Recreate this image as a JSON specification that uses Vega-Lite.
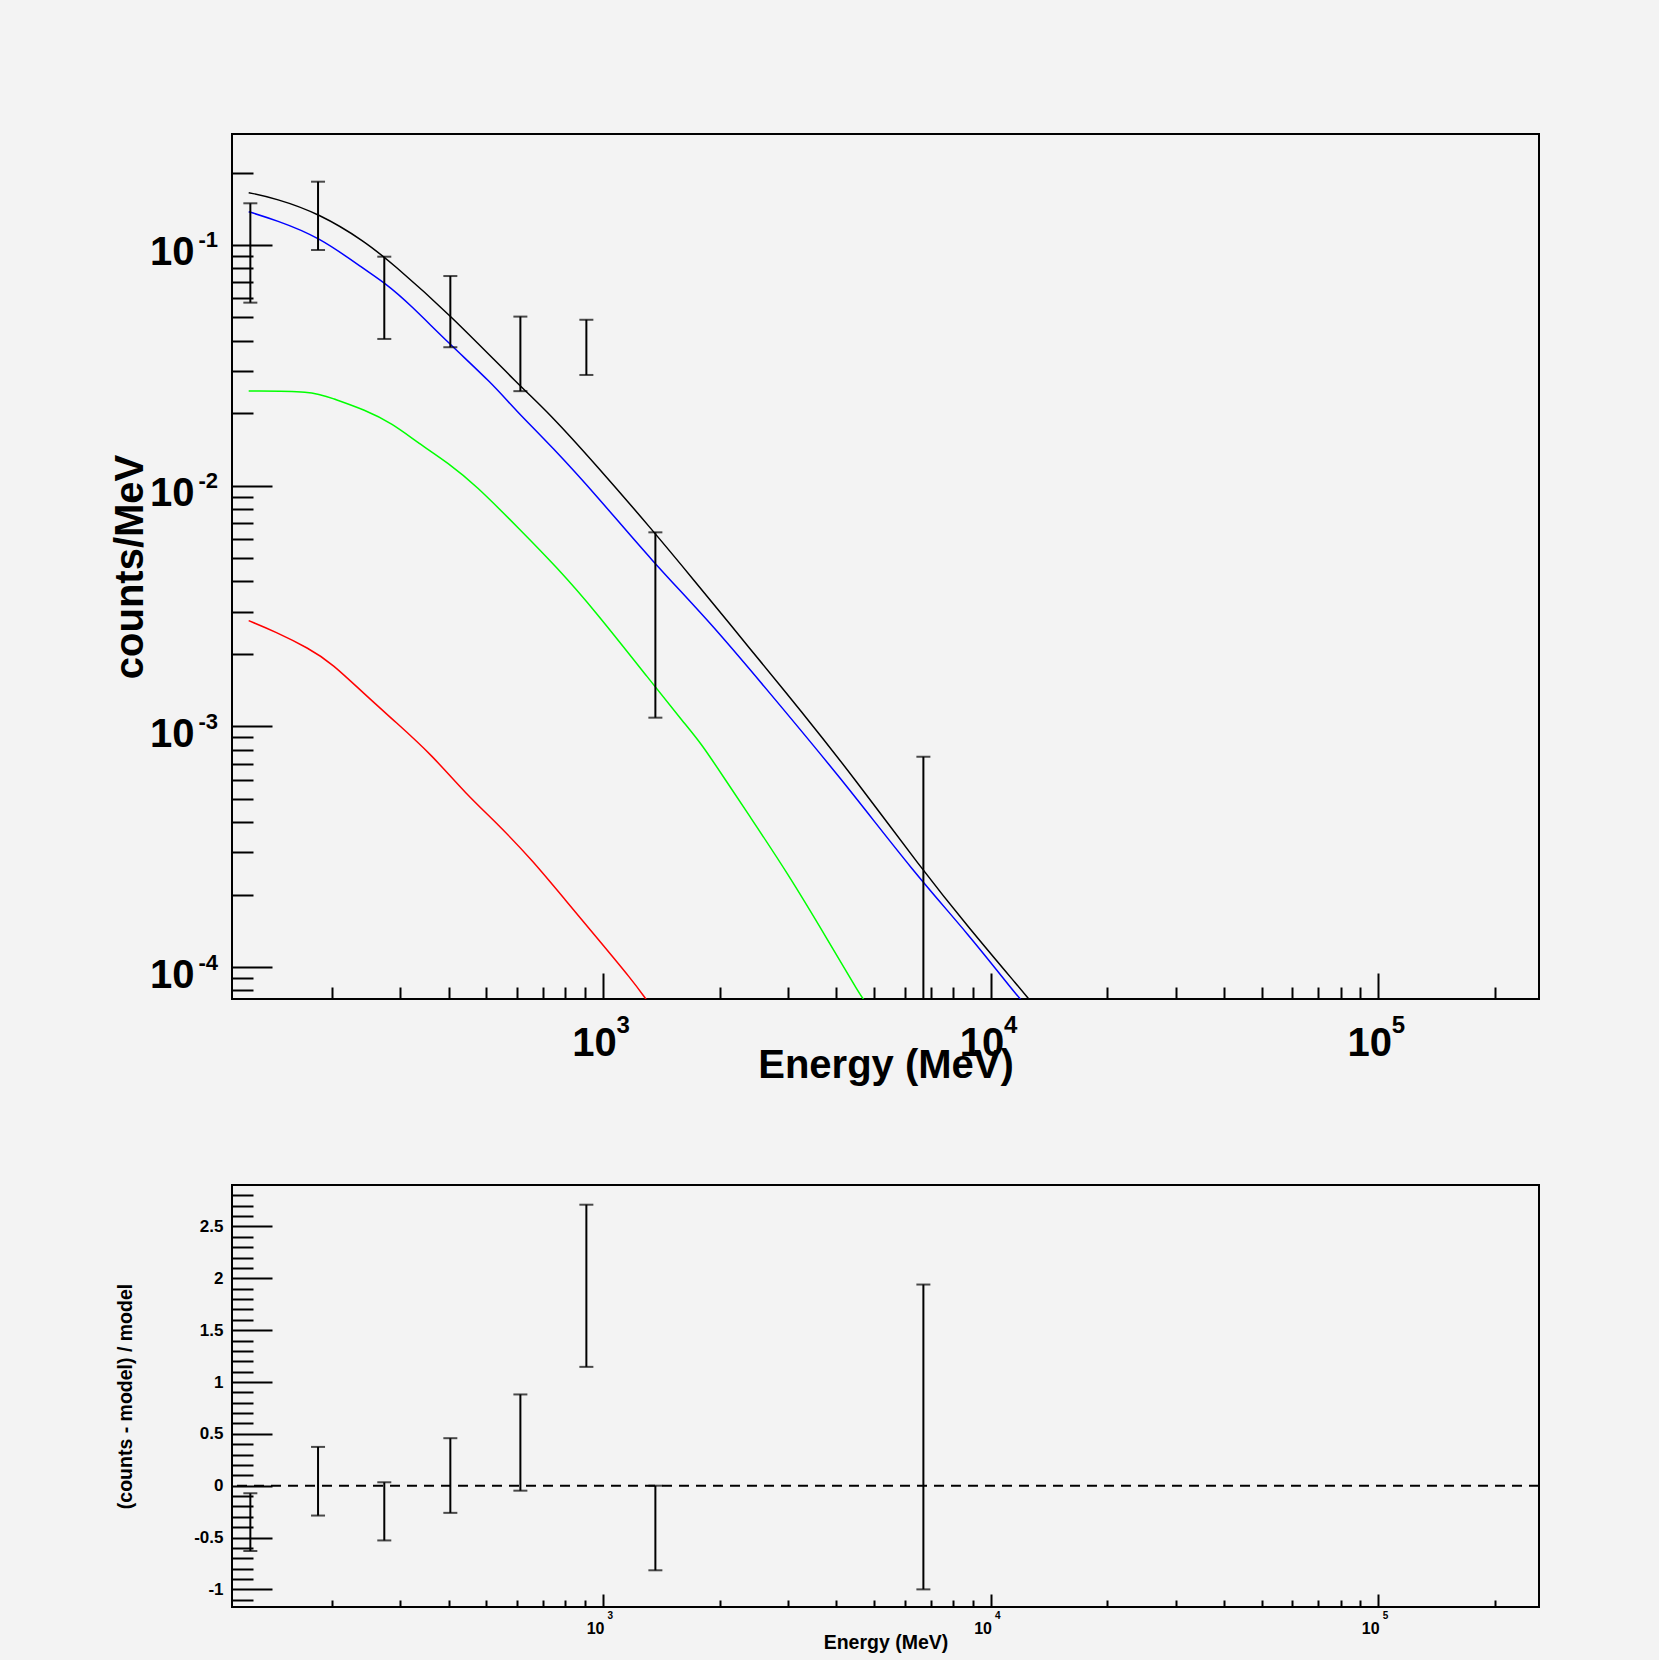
{
  "$schema": "https://vega.github.io/schema/vega-lite/v6.json",
  "background": "#f3f3f3",
  "autosize": {"type": "pad"},
  "padding": {"left": 109, "top": 133, "right": 120, "bottom": 8},
  "bounds": "flush",
  "spacing": 186,
  "datasets": {
    "curves": [
      {"comp": "total", "E": 121.8, "flux": 0.1649},
      {"comp": "total", "E": 142.7, "flux": 0.1563},
      {"comp": "total", "E": 184.7, "flux": 0.1354},
      {"comp": "total", "E": 243.6, "flux": 0.1032},
      {"comp": "total", "E": 285.4, "flux": 0.0839},
      {"comp": "total", "E": 399.8, "flux": 0.052},
      {"comp": "total", "E": 618, "flux": 0.02539},
      {"comp": "total", "E": 720, "flux": 0.0203},
      {"comp": "total", "E": 969, "flux": 0.01199},
      {"comp": "total", "E": 1334, "flux": 0.0066},
      {"comp": "total", "E": 1687, "flux": 0.00419},
      {"comp": "total", "E": 2409, "flux": 0.002077},
      {"comp": "total", "E": 3243, "flux": 0.00116},
      {"comp": "total", "E": 4451, "flux": 0.000609},
      {"comp": "total", "E": 6616, "flux": 0.000258},
      {"comp": "total", "E": 8734, "flux": 0.0001472},
      {"comp": "total", "E": 12110, "flux": 0.000079},
      {"comp": "total", "E": 12700, "flux": 0.000072},
      {"comp": "comp1", "E": 121.8, "flux": 0.1375},
      {"comp": "comp1", "E": 142.7, "flux": 0.127},
      {"comp": "comp1", "E": 184.7, "flux": 0.1083},
      {"comp": "comp1", "E": 243.6, "flux": 0.0787},
      {"comp": "comp1", "E": 274.3, "flux": 0.0693},
      {"comp": "comp1", "E": 315.2, "flux": 0.0573},
      {"comp": "comp1", "E": 399.8, "flux": 0.03905},
      {"comp": "comp1", "E": 517, "flux": 0.02663},
      {"comp": "comp1", "E": 593.8, "flux": 0.02063},
      {"comp": "comp1", "E": 738.6, "flux": 0.01452},
      {"comp": "comp1", "E": 972, "flux": 0.00893},
      {"comp": "comp1", "E": 1330, "flux": 0.00491},
      {"comp": "comp1", "E": 1900, "flux": 0.002681},
      {"comp": "comp1", "E": 2608, "flux": 0.001462},
      {"comp": "comp1", "E": 4114, "flux": 0.000609},
      {"comp": "comp1", "E": 6360, "flux": 0.0002453},
      {"comp": "comp1", "E": 8734, "flux": 0.0001381},
      {"comp": "comp1", "E": 11755, "flux": 0.0000753},
      {"comp": "comp1", "E": 12100, "flux": 0.000072},
      {"comp": "comp2", "E": 121.8, "flux": 0.02473},
      {"comp": "comp2", "E": 177.4, "flux": 0.02473},
      {"comp": "comp2", "E": 199.8, "flux": 0.02307},
      {"comp": "comp2", "E": 243.6, "flux": 0.02063},
      {"comp": "comp2", "E": 285.4, "flux": 0.01816},
      {"comp": "comp2", "E": 334.5, "flux": 0.015},
      {"comp": "comp2", "E": 399.8, "flux": 0.01239},
      {"comp": "comp2", "E": 468.3, "flux": 0.01007},
      {"comp": "comp2", "E": 606, "flux": 0.006653},
      {"comp": "comp2", "E": 764, "flux": 0.004538},
      {"comp": "comp2", "E": 949.5, "flux": 0.003046},
      {"comp": "comp2", "E": 1330, "flux": 0.001534},
      {"comp": "comp2", "E": 1621, "flux": 0.00103},
      {"comp": "comp2", "E": 1790, "flux": 0.000851},
      {"comp": "comp2", "E": 2056, "flux": 0.000609},
      {"comp": "comp2", "E": 2362, "flux": 0.0004355},
      {"comp": "comp2", "E": 2996, "flux": 0.0002453},
      {"comp": "comp2", "E": 3801, "flux": 0.0001296},
      {"comp": "comp2", "E": 4633, "flux": 0.0000753},
      {"comp": "comp2", "E": 4750, "flux": 0.000072},
      {"comp": "comp3", "E": 121.8, "flux": 0.002749},
      {"comp": "comp3", "E": 142.7, "flux": 0.002474},
      {"comp": "comp3", "E": 174, "flux": 0.002111},
      {"comp": "comp3", "E": 199.8, "flux": 0.001829},
      {"comp": "comp3", "E": 243.6, "flux": 0.00135},
      {"comp": "comp3", "E": 291, "flux": 0.001046},
      {"comp": "comp3", "E": 362, "flux": 0.00076},
      {"comp": "comp3", "E": 441, "flux": 0.000527},
      {"comp": "comp3", "E": 538, "flux": 0.0003895},
      {"comp": "comp3", "E": 655.8, "flux": 0.0002786},
      {"comp": "comp3", "E": 799, "flux": 0.00019},
      {"comp": "comp3", "E": 974.8, "flux": 0.0001296},
      {"comp": "comp3", "E": 1188, "flux": 0.0000884},
      {"comp": "comp3", "E": 1286, "flux": 0.0000742},
      {"comp": "comp3", "E": 1310, "flux": 0.000071}
    ],
    "bins": [
      {"E": 123, "lo": 0.0576, "hi": 0.149, "rlo": -0.63, "rhi": -0.073},
      {"E": 183.9, "lo": 0.0953, "hi": 0.1832, "rlo": -0.288, "rhi": 0.374},
      {"E": 272.6, "lo": 0.0407, "hi": 0.0894, "rlo": -0.528, "rhi": 0.033},
      {"E": 403.6, "lo": 0.0376, "hi": 0.0743, "rlo": -0.262, "rhi": 0.458},
      {"E": 611.9, "lo": 0.0247, "hi": 0.0504, "rlo": -0.048, "rhi": 0.88},
      {"E": 905.6, "lo": 0.02884, "hi": 0.0489, "rlo": 1.146, "rhi": 2.71},
      {"E": 1364.6, "lo": 0.001087, "hi": 0.0064, "rlo": -0.816, "rhi": 0.0},
      {"E": 6707, "lo": 0.000001, "hi": 0.000748, "rlo": -1.0, "rhi": 1.94}
    ]
  },
  "config": {
    "view": {"stroke": "black", "strokeWidth": 2},
    "font": "Liberation Sans",
    "axis": {
      "grid": false, "domain": false,
      "labelColor": "black", "titleColor": "black", "tickColor": "black",
      "labelFont": "Liberation Sans", "titleFont": "Liberation Sans",
      "labelFontWeight": "bold", "titleFontWeight": "bold",
      "labelFlush": false, "labelOverlap": false
    }
  },
  "vconcat": [
    {
      "width": 1307,
      "height": 865,
      "resolve": {"axis": {"x": "independent", "y": "independent"}},
      "layer": [
        {
          "data": {"name": "curves"},
          "mark": {"type": "line", "strokeWidth": 1.5, "clip": true, "interpolate": "basis"},
          "encoding": {
            "x": {"field": "E", "type": "quantitative",
              "scale": {"type": "log", "domain": [110.3, 260000], "nice": false},
              "axis": {"orient": "bottom", "values": [1000, 10000, 100000], "ticks": false,
                "labelExpr": "'10'", "labelFontSize": 40, "labelBaseline": "alphabetic", "labelAlign": "center",
                "labelPadding": 56, "labelOffset": -9,
                "title": "Energy (MeV)", "titleFontSize": 40, "titleBaseline": "alphabetic", "titleY": 78}},
            "y": {"field": "flux", "type": "quantitative",
              "scale": {"type": "log", "domain": [0.0000737, 0.2891], "nice": false},
              "axis": {"orient": "left", "values": [0.1, 0.01, 0.001, 0.0001], "ticks": false,
                "labelExpr": "'10'", "labelFontSize": 40, "labelBaseline": "alphabetic", "labelAlign": "right",
                "labelPadding": 38, "labelOffset": 20,
                "title": "counts/MeV", "titleFontSize": 40, "titleBaseline": "alphabetic", "titleX": -90}},
            "color": {"field": "comp", "type": "nominal",
              "scale": {"domain": ["total", "comp1", "comp2", "comp3"], "range": ["#000000", "#0000ff", "#00ff00", "#ff0000"]},
              "legend": null}
          }
        },
        {
          "data": {"name": "bins"},
          "mark": {"type": "rule", "strokeWidth": 2, "color": "black", "clip": true},
          "encoding": {
            "x": {"field": "E", "type": "quantitative",
              "scale": {"type": "log", "domain": [110.3, 260000], "nice": false},
              "axis": {"orient": "bottom", "values": [1000, 10000, 100000], "ticks": false,
                "labelExpr": "'' + round(log(datum.value)/LN10)", "labelFontSize": 24, "labelBaseline": "alphabetic",
                "labelAlign": "left", "labelPadding": 33, "labelOffset": 13, "title": null}},
            "y": {"field": "lo", "type": "quantitative",
              "scale": {"type": "log", "domain": [0.0000737, 0.2891], "nice": false},
              "axis": {"orient": "left", "values": [0.1, 0.01, 0.001, 0.0001], "ticks": false,
                "labelExpr": "'-' + round(-log(datum.value)/LN10)", "labelFontSize": 22, "labelBaseline": "alphabetic",
                "labelAlign": "left", "labelPadding": 34, "labelOffset": 2, "title": null}},
            "y2": {"field": "hi"}
          }
        },
        {
          "data": {"name": "bins"},
          "mark": {"type": "tick", "orient": "horizontal", "size": 14, "thickness": 2, "color": "black", "clip": true},
          "encoding": {
            "x": {"field": "E", "type": "quantitative",
              "scale": {"type": "log", "domain": [110.3, 260000], "nice": false},
              "axis": {"orient": "bottom", "labels": false, "tickWidth": 2, "title": null,
                "values": [200, 300, 400, 500, 600, 700, 800, 900, 1000, 2000, 3000, 4000, 5000, 6000, 7000, 8000, 9000, 10000, 20000, 30000, 40000, 50000, 60000, 70000, 80000, 90000, 100000, 200000],
                "tickSize": {"condition": {"test": "abs(log(datum.value)/LN10 - round(log(datum.value)/LN10)) < 0.001", "value": -26}, "value": -12}}},
            "y": {"field": "hi", "type": "quantitative",
              "scale": {"type": "log", "domain": [0.0000737, 0.2891], "nice": false},
              "axis": {"orient": "left", "labels": false, "tickWidth": 2, "title": null,
                "values": [0.2, 0.1, 0.09, 0.08, 0.07, 0.06, 0.05, 0.04, 0.03, 0.02, 0.01, 0.009, 0.008, 0.007, 0.006, 0.005, 0.004, 0.003, 0.002, 0.001, 0.0009, 0.0008, 0.0007, 0.0006, 0.0005, 0.0004, 0.0003, 0.0002, 0.0001, 0.00009, 0.00008],
                "tickSize": {"condition": {"test": "abs(log(datum.value)/LN10 - round(log(datum.value)/LN10)) < 0.001", "value": -40}, "value": -21}}}
          }
        },
        {
          "data": {"name": "bins"},
          "mark": {"type": "tick", "orient": "horizontal", "size": 14, "thickness": 2, "color": "black", "clip": true},
          "encoding": {
            "x": {"field": "E", "type": "quantitative", "scale": {"type": "log", "domain": [110.3, 260000], "nice": false}, "axis": null},
            "y": {"field": "lo", "type": "quantitative", "scale": {"type": "log", "domain": [0.0000737, 0.2891], "nice": false}, "axis": null}
          }
        }
      ]
    },
    {
      "width": 1307,
      "height": 422,
      "resolve": {"axis": {"x": "independent", "y": "independent"}},
      "layer": [
        {
          "data": {"values": [{}]},
          "mark": {"type": "rule", "strokeWidth": 2, "color": "black", "strokeDash": [10, 7]},
          "encoding": {
            "y": {"datum": 0, "type": "quantitative", "scale": {"type": "linear", "domain": [-1.17, 2.9], "nice": false, "zero": false}, "axis": null}
          }
        },
        {
          "data": {"name": "bins"},
          "mark": {"type": "rule", "strokeWidth": 2, "color": "black", "clip": true},
          "encoding": {
            "x": {"field": "E", "type": "quantitative",
              "scale": {"type": "log", "domain": [110.3, 260000], "nice": false},
              "axis": {"orient": "bottom", "values": [1000, 10000, 100000], "ticks": false,
                "labelExpr": "'10'", "labelFontSize": 16, "labelBaseline": "alphabetic", "labelAlign": "center",
                "labelPadding": 26, "labelOffset": -8,
                "title": "Energy (MeV)", "titleFontSize": 19.5, "titleBaseline": "alphabetic", "titleY": 41}},
            "y": {"field": "rlo", "type": "quantitative",
              "scale": {"type": "linear", "domain": [-1.17, 2.9], "nice": false, "zero": false},
              "axis": {"orient": "left", "values": [-1, -0.5, 0, 0.5, 1, 1.5, 2, 2.5], "ticks": false,
                "labelExpr": "'' + datum.value", "labelFontSize": 17, "labelBaseline": "middle", "labelAlign": "right",
                "labelPadding": 9,
                "title": "(counts - model) / model", "titleFontSize": 19.5, "titleBaseline": "alphabetic", "titleX": -101}},
            "y2": {"field": "rhi"}
          }
        },
        {
          "data": {"name": "bins"},
          "mark": {"type": "tick", "orient": "horizontal", "size": 14, "thickness": 2, "color": "black", "clip": true},
          "encoding": {
            "x": {"field": "E", "type": "quantitative",
              "scale": {"type": "log", "domain": [110.3, 260000], "nice": false},
              "axis": {"orient": "bottom", "values": [1000, 10000, 100000], "ticks": false,
                "labelExpr": "'' + round(log(datum.value)/LN10)", "labelFontSize": 10, "labelBaseline": "alphabetic",
                "labelAlign": "left", "labelPadding": 11, "labelOffset": 4, "title": null}},
            "y": {"field": "rhi", "type": "quantitative",
              "scale": {"type": "linear", "domain": [-1.17, 2.9], "nice": false, "zero": false},
              "axis": {"orient": "left", "labels": false, "tickWidth": 2, "title": null,
                "values": [-1.1, -1.0, -0.9, -0.8, -0.7, -0.6, -0.5, -0.4, -0.3, -0.2, -0.1, 0, 0.1, 0.2, 0.3, 0.4, 0.5, 0.6, 0.7, 0.8, 0.9, 1.0, 1.1, 1.2, 1.3, 1.4, 1.5, 1.6, 1.7, 1.8, 1.9, 2.0, 2.1, 2.2, 2.3, 2.4, 2.5, 2.6, 2.7, 2.8],
                "tickSize": {"condition": {"test": "abs(datum.value*2 - round(datum.value*2)) < 0.001", "value": -40}, "value": -21}}}
          }
        },
        {
          "data": {"name": "bins"},
          "mark": {"type": "tick", "orient": "horizontal", "size": 14, "thickness": 2, "color": "black", "clip": true},
          "encoding": {
            "x": {"field": "E", "type": "quantitative",
              "scale": {"type": "log", "domain": [110.3, 260000], "nice": false},
              "axis": {"orient": "bottom", "labels": false, "tickWidth": 2, "title": null,
                "values": [200, 300, 400, 500, 600, 700, 800, 900, 1000, 2000, 3000, 4000, 5000, 6000, 7000, 8000, 9000, 10000, 20000, 30000, 40000, 50000, 60000, 70000, 80000, 90000, 100000, 200000],
                "tickSize": {"condition": {"test": "abs(log(datum.value)/LN10 - round(log(datum.value)/LN10)) < 0.001", "value": -13}, "value": -7}}},
            "y": {"field": "rlo", "type": "quantitative", "scale": {"type": "linear", "domain": [-1.17, 2.9], "nice": false, "zero": false}, "axis": null}
          }
        }
      ]
    }
  ]
}
